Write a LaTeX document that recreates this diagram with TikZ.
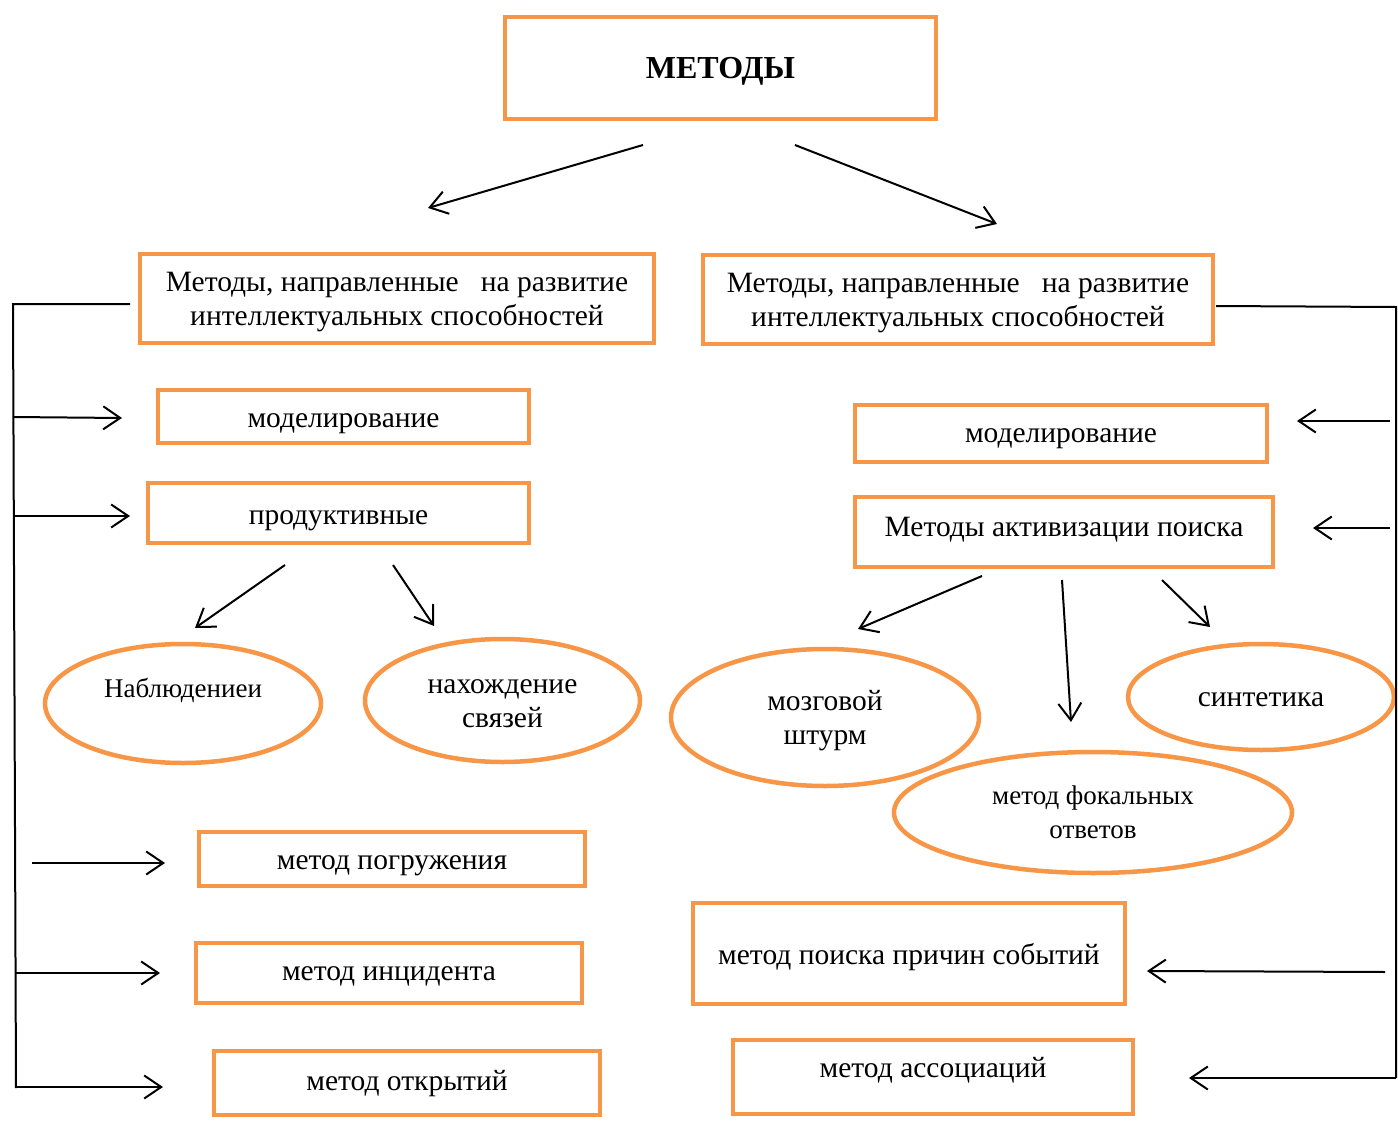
\documentclass[tikz,border=0pt]{standalone}
\usepackage{fontspec}
\setmainfont{Liberation Serif}
\usetikzlibrary{arrows.meta,shapes.geometric}
\definecolor{orng}{HTML}{F79646}
\newcommand\tx[2]{\raisebox{#1}[\height][\depth]{\begin{tabular}{@{}c@{}}#2\end{tabular}}}
\begin{document}
\begin{tikzpicture}[x=1pt,y=-1pt,
  box/.style={draw=orng,line width=4.5pt,rectangle,inner sep=0pt,font=\fontsize{29.5}{34}\selectfont},
  ell/.style={draw=orng,line width=4.5pt,ellipse,inner sep=0pt,font=\fontsize{29.5}{34}\selectfont},
  arr/.style={line width=2pt,-{Straight Barb[length=17pt,width=23pt,line width=2pt]}},
  bus/.style={line width=2pt}]
\useasboundingbox (0,0) rectangle (1398,1124);
% top
\node[box,minimum width=431pt,minimum height=102pt,font=\fontsize{32}{34}\selectfont\bfseries] (top) at (720.5,68) {\tx{-4pt}{МЕТОДЫ}};
% headers
\node[box,minimum width=514pt,minimum height=89pt] (lh) at (397,298.5) {\tx{-3.5pt}{Методы, направленные \ \ на развитие\\интеллектуальных способностей}};
\node[box,minimum width=510pt,minimum height=89pt] (rh) at (958,299.5) {\tx{-3.5pt}{Методы, направленные \ \ на развитие\\интеллектуальных способностей}};
% left boxes
\node[box,minimum width=371pt,minimum height=53pt] (lmod) at (343.5,416.5) {\tx{-4pt}{моделирование}};
\node[box,minimum width=381pt,minimum height=60pt] (lprod) at (338.5,513) {\tx{-5pt}{продуктивные}};
\node[box,minimum width=386pt,minimum height=54pt] (lpogr) at (392,859) {\tx{-3.5pt}{метод погружения}};
\node[box,minimum width=386pt,minimum height=60pt] (linc) at (389,973) {\tx{-1pt}{метод инцидента}};
\node[box,minimum width=386pt,minimum height=64pt] (lotk) at (407,1083) {\tx{-1pt}{метод открытий}};
% right boxes
\node[box,minimum width=412pt,minimum height=57pt] (rmod) at (1061,433.5) {\tx{-2.5pt}{моделирование}};
\node[box,minimum width=418pt,minimum height=70pt] (ract) at (1064,532) {\tx{2pt}{Методы активизации поиска}};
\node[box,minimum width=432pt,minimum height=101pt] (rprich) at (909,953.5) {\tx{-4pt}{метод поиска причин событий}};
\node[box,minimum width=400pt,minimum height=74pt] (rassoc) at (933,1077) {\tx{6.5pt}{метод ассоциаций}};
% ellipses
\node[ell,minimum width=276pt,minimum height=119pt,font=\fontsize{27}{34}\selectfont] (nabl) at (183,703.5) {\tx{12.5pt}{Наблюдениеи}};
\node[ell,minimum width=275pt,minimum height=123pt] (nakh) at (502.5,700.5) {\tx{-3.5pt}{нахождение\\связей}};
\node[ell,minimum width=308pt,minimum height=137pt] (mozg) at (825,717.5) {\tx{-3pt}{мозговой\\штурм}};
\node[ell,minimum width=266pt,minimum height=106pt] (sint) at (1261,697) {\tx{-3pt}{синтетика}};
\node[ell,minimum width=398pt,minimum height=121pt,font=\fontsize{27}{34}\selectfont] (fok) at (1093,812.5) {\tx{-2.5pt}{метод фокальных\\ответов}};
% arrow endpoints
\coordinate (a1s) at (643,145); \coordinate (a1e) at (428,208);
\coordinate (a2s) at (795,145); \coordinate (a2e) at (997,224);
\coordinate (a3s) at (285,565); \coordinate (a3e) at (195,628);
\coordinate (a4s) at (393,565); \coordinate (a4e) at (434,626);
\coordinate (a5s) at (982,576); \coordinate (a5e) at (858,629);
\coordinate (a6s) at (1062,580); \coordinate (a6e) at (1071,722);
\coordinate (a7s) at (1162,580); \coordinate (a7e) at (1210,627);
\draw[arr] (a1s) -- (a1e);
\draw[arr] (a2s) -- (a2e);
\draw[arr] (a3s) -- (a3e);
\draw[arr] (a4s) -- (a4e);
\draw[arr] (a5s) -- (a5e);
\draw[arr] (a6s) -- (a6e);
\draw[arr] (a7s) -- (a7e);
% left bus
\coordinate (lbt) at (13,304); \coordinate (lbb) at (16,1088);
\coordinate (lht) at (130,304);
\draw[bus] (lht) -- (lbt) -- (lbb);
\coordinate (l1) at (13,417); \coordinate (l1e) at (122,418);
\coordinate (l2) at (13,516); \coordinate (l2e) at (130,516);
\coordinate (l3) at (32,863); \coordinate (l3e) at (165,863);
\coordinate (l4) at (15,973); \coordinate (l4e) at (160,973);
\coordinate (l5) at (16,1087); \coordinate (l5e) at (163,1087);
\draw[arr] (l1) -- (l1e);
\draw[arr] (l2) -- (l2e);
\draw[arr] (l3) -- (l3e);
\draw[arr] (l4) -- (l4e);
\draw[arr] (l5) -- (l5e);
% right bus
\coordinate (rht) at (1216,306); \coordinate (rbt) at (1396,307); \coordinate (rbb) at (1396,1078);
\draw[bus] (rht) -- (rbt) -- (rbb);
\coordinate (r1) at (1390,421); \coordinate (r1e) at (1297,421);
\coordinate (r2) at (1390,528); \coordinate (r2e) at (1313,528);
\coordinate (r3) at (1385,972); \coordinate (r3e) at (1147,971);
\coordinate (r4) at (1396,1078); \coordinate (r4e) at (1189,1078);
\draw[arr] (r1) -- (r1e);
\draw[arr] (r2) -- (r2e);
\draw[arr] (r3) -- (r3e);
\draw[arr] (r4) -- (r4e);
\end{tikzpicture}
\end{document}
